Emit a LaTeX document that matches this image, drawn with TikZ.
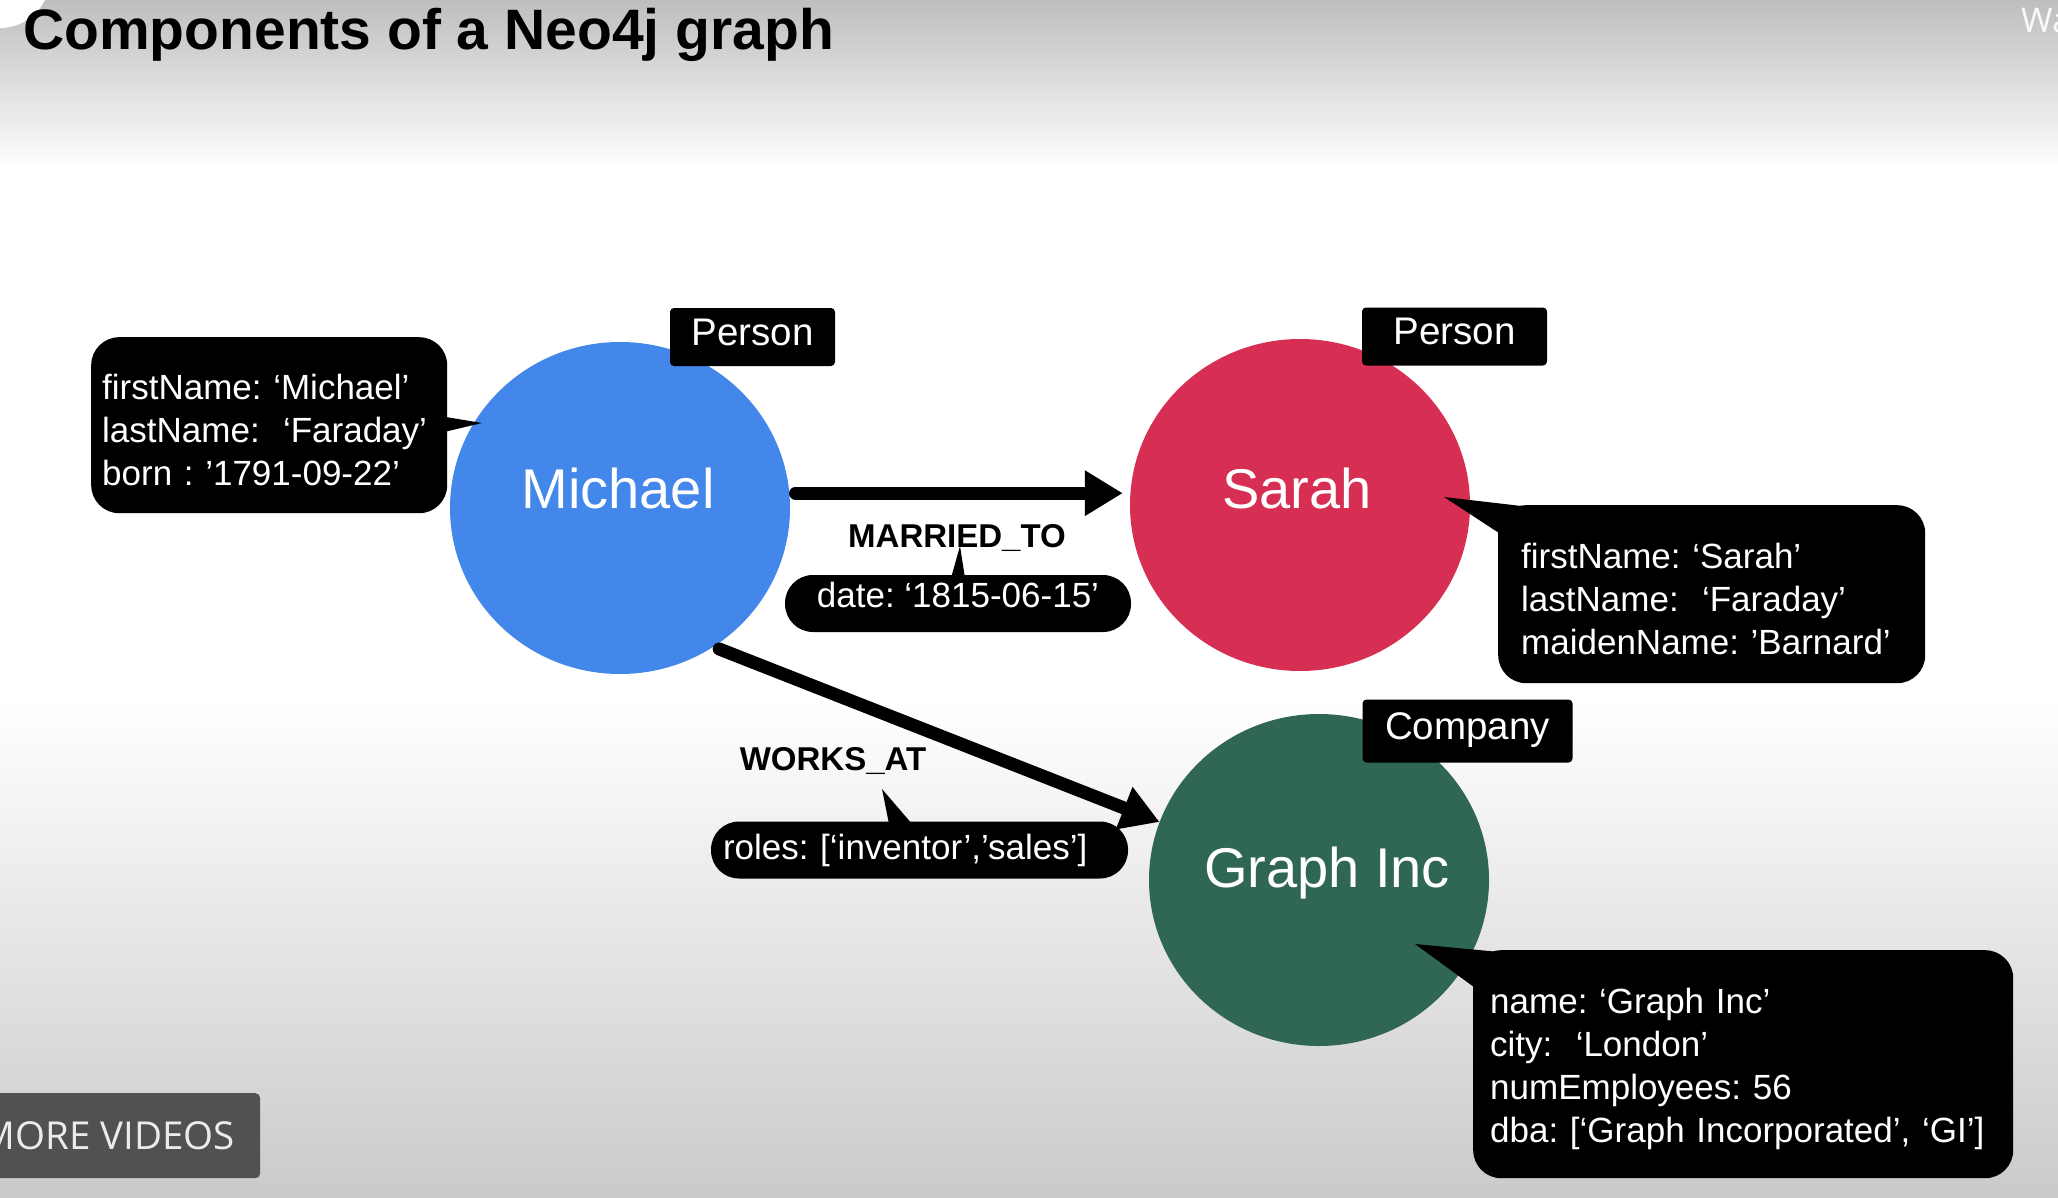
\documentclass[tikz,border=0pt]{standalone}
\usepackage{fontspec}
\setmainfont{Liberation Sans}
\newfontfamily\uifont{Open Sans}
\usetikzlibrary{arrows.meta,shapes.geometric}
\definecolor{mblue}{RGB}{67,135,235}
\definecolor{sred}{RGB}{215,46,83}
\definecolor{ggreen}{RGB}{47,103,83}
\definecolor{btngray}{RGB}{81,81,81}
\definecolor{topgray}{RGB}{190,190,190}
\definecolor{botgray}{RGB}{202,202,202}
\newcommand{\topstrut}{\rule{0pt}{35pt}}
\begin{document}
\frenchspacing
\begin{tikzpicture}[x=1pt,y=-1pt,line join=round,
  ent/.style={ellipse, minimum width=340pt, minimum height=332pt, inner sep=0pt, draw=none},
  enttext/.style={text=white, font=\fontsize{56}{60}\selectfont, anchor=base, inner sep=0pt},
  tag/.style={fill=black, rounded corners=4pt, text=white, font=\fontsize{38.5}{40}\selectfont, inner sep=0pt, text height=24pt, text depth=8pt},
  props/.style={fill=black, rounded corners=28pt, text=white, font=\fontsize{35}{43}\selectfont, align=left, anchor=north west, inner ysep=0pt},
  pill/.style={fill=black, rounded corners=28pt, text=white, font=\fontsize{35}{38}\selectfont, inner ysep=0pt},
  reltext/.style={font=\bfseries\fontsize{33}{36}\selectfont, anchor=base, inner sep=0pt},
  rel/.style={line width=13pt, line cap=round, shorten <=6pt, -{Triangle[length=38pt,width=43pt]}},
  tail/.style={fill=black}
]
% background
\useasboundingbox (0,0) rectangle (2058,1198);
\shade[top color=topgray, bottom color=white] (0,0) rectangle (2058,170);
\fill[white] (0,169) rectangle (2058,701);
\shade[top color=white, bottom color=botgray] (0,700) rectangle (2058,1198);
\fill[white] (0,-22) circle (50pt);

% title
\node[anchor=base west, inner sep=0pt, font=\bfseries\fontsize{57}{60}\selectfont] (title) at (23,50) {Components of a Neo4j graph};
\node[anchor=base west, inner sep=0pt, text=white!96!gray, font=\uifont\fontsize{34}{36}\selectfont] (wa) at (2021,33) {Wa};

% entities
\node[ent, fill=mblue] (michael) at (620,508) {};
\node[ent, fill=sred] (sarah) at (1300,505) {};
\node[ent, fill=ggreen] (graph) at (1319,880) {};
\node[enttext] (michaelT) at (618,508) {Michael};
\node[enttext] (sarahT) at (1297,508) {Sarah};
\node[enttext] (graphT) at (1327,887) {Graph Inc};

% labels
\node[tag, minimum width=165pt, minimum height=58pt] (tagM) at (752.5,337) {Person};
\node[tag, minimum width=185pt, minimum height=58pt] (tagS) at (1454.5,336.5) {Person};
\node[tag, minimum width=210pt, minimum height=63pt] (tagG) at (1467.5,731) {Company};

% relationships
\draw[rel, shorten >=7pt] (michael.5) -- (michael.5 -| sarah.west);
\draw[rel] (michael.-56) -- (graph.160);
\node[reltext] (marriedT) at (957,547) {MARRIED\_TO};
\node[reltext] (worksT) at (833,770) {WORKS\_AT};

% callout tails
\coordinate (mtip) at (482,423);
\coordinate (stip) at (1444,497);
\coordinate (gtip) at (1415,944);
\coordinate (dtip) at (960,546);
\coordinate (rtip) at (882,789);
\fill[tail] (440,416) -- (mtip) -- (440,433) -- cycle;
\fill[tail] (1530,507) -- (stip) -- (1502,535) -- cycle;
\fill[tail] (1510,953) -- (gtip) -- (1478,990) -- cycle;
\fill[tail] (951,578) -- (dtip) -- (965,578) -- cycle;
\fill[tail] (889,824) -- (rtip) -- (912,824) -- cycle;

% property boxes
\node[props, minimum width=356pt, minimum height=176pt, text width=334pt, inner xsep=11pt] (mprops) at (91,337)
  {\topstrut firstName: ‘Michael’\\lastName: \ ‘Faraday’\\born : ’1791-09-22’};
\node[props, minimum width=427pt, minimum height=178pt, text width=381pt, inner xsep=23pt] (sprops) at (1498,505)
  {\topstrut firstName: ‘Sarah’\\lastName: \ ‘Faraday’\\maidenName: ’Barnard’};
\node[props, minimum width=540pt, minimum height=228pt, text width=506pt, inner xsep=17pt] (gprops) at (1473,950)
  {\topstrut name: ‘Graph Inc’\\city: \ ‘London’\\numEmployees: 56\\dba: [‘Graph Incorporated’, ‘GI’]};

% relationship property pills
\node[pill, minimum width=346pt, minimum height=57pt, text height=25pt, text depth=18pt] (dateP) at (958,603.5) {date: ‘1815-06-15’};
\node[pill, minimum height=57pt, text width=393pt, align=left, inner xsep=12pt, text height=26pt, text depth=8pt] (rolesP) at (919.5,850) {roles: [‘inventor’,’sales’]};

% video overlay button
\node[fill=btngray, rounded corners=5pt, minimum width=280pt, minimum height=85pt, anchor=north west, inner sep=0pt] (btn) at (-20,1093) {};
\node[anchor=base east, inner sep=0pt, text=white!92!black, font=\uifont\fontsize{38.5}{40}\selectfont] (btnT) at (235,1149) {MORE VIDEOS};
\end{tikzpicture}
\end{document}
